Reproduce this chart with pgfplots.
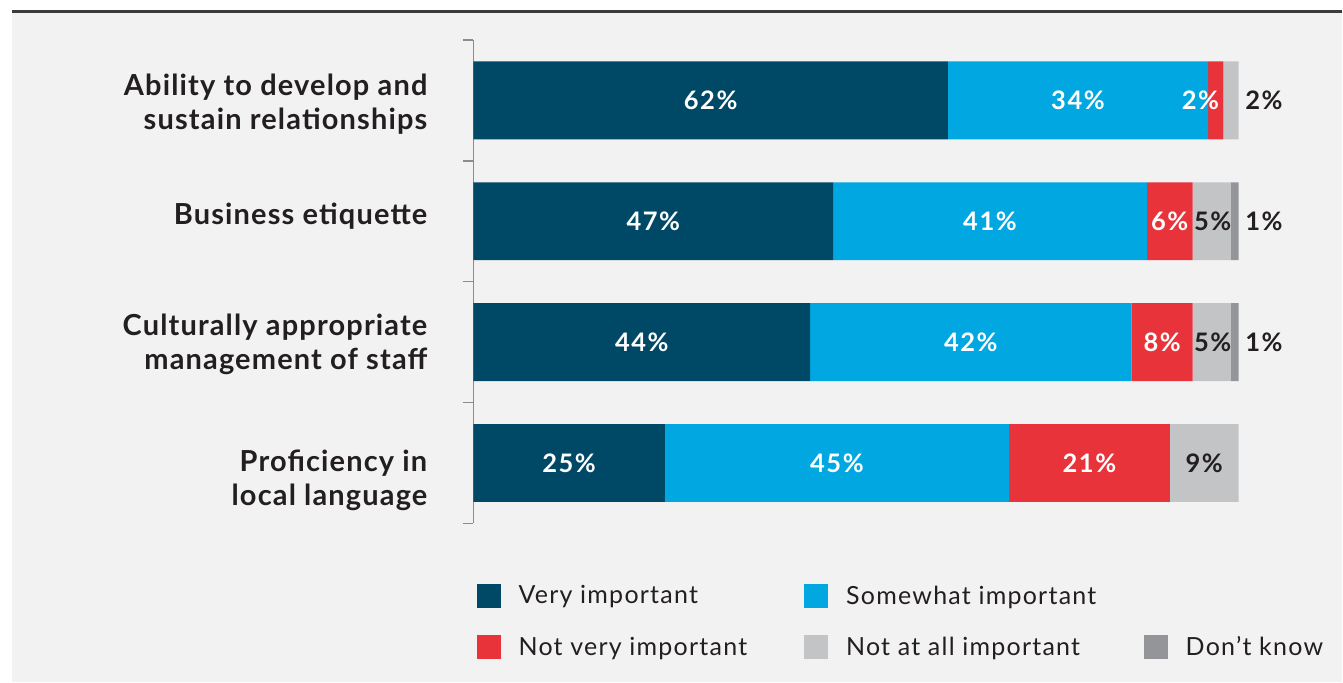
\documentclass[border=0pt]{standalone}
\usepackage{pgfplots}
\pgfplotsset{compat=1.18}
\usepackage{fontspec}
\setmainfont{Lato}
\newfontfamily\catfont[LetterSpace=4]{Lato}
\newfontfamily\valfont[LetterSpace=6]{Lato}
\newfontfamily\legfont[LetterSpace=5]{Lato}
\definecolor{cA}{HTML}{004966}
\definecolor{cB}{HTML}{00A7E1}
\definecolor{cC}{HTML}{E8333A}
\definecolor{cD}{HTML}{C3C4C6}
\definecolor{cE}{HTML}{939598}
\definecolor{bg}{HTML}{F2F2F2}
\definecolor{topline}{HTML}{3C3C3C}
\definecolor{axgray}{HTML}{8C8C8C}
\definecolor{txt}{HTML}{231F20}
\tikzset{
  wl/.style={font=\valfont\fontsize{25.5}{30}\selectfont\bfseries, inner sep=0pt, text=white},
  dl/.style={font=\valfont\fontsize{25.5}{30}\selectfont\bfseries, inner sep=0pt, text=txt},
  cl/.style={font=\catfont\fontsize{29}{34}\selectfont\bfseries, text=txt, align=right, anchor=east, inner sep=0pt, xshift=-46pt},
}
\pgfplotsset{
  sqleg/.style={legend image code/.code={\fill[##1] (0pt,-12pt) rectangle (24pt,12pt);}},
  geom/.style={at={(474pt,-524pt)}, anchor=south west,
    scale only axis, width=766pt, height=484pt,
    xmin=0, xmax=100, ymin=-0.5, ymax=3.5, y dir=reverse, clip=false},
  lab/.style={draw=none, mark=none, point meta=explicit symbolic,
    nodes near coords={\pgfplotspointmeta\%}, nodes near coords align=center,
    every node near coord/.append style={#1}},
}
\pgfplotstableread{
x y l
31 0 62
79 0 34
95 0 2
23.5 1 47
67.5 1 41
91 1 6
22 2 44
65 2 42
90 2 8
12.5 3 25
47.5 3 45
80.5 3 21
}\whitelabels
\pgfplotstableread{
x y l
103.3 0 2
96.6 1 5
103.3 1 1
96.6 2 5
103.3 2 1
95.5 3 9
}\darklabels
\begin{document}
\begin{tikzpicture}[x=1pt,y=1pt]
\fill[white] (0,0) rectangle (1343,-683);
\fill[bg] (12,-13) rectangle (1343,-683);
\draw[line width=3pt, topline] (12,-11.5) -- (1343,-11.5);
\begin{axis}[
  geom,
  xbar stacked, bar width=78pt,
  axis x line=none,
  axis y line*=left,
  y axis line style={axgray, line width=1.5pt},
  ytick={-0.5,0.5,1.5,2.5,3.5}, yticklabels={},
  tick align=outside, major tick length=10pt,
  ytick style={axgray, line width=1.5pt},
  legend columns=3,
  legend cell align=left,
  legend style={at={(0,-0.12)}, anchor=north west, draw=none, fill=none,
    font=\legfont\fontsize{25}{30}\selectfont, text=txt,
    row sep=27pt,
    /tikz/every odd column/.append style={column sep=16pt},
    /tikz/every even column/.append style={column sep=55pt}},
]
\addplot[sqleg, fill=cA, draw=none] coordinates {(62,0) (47,1) (44,2) (25,3)};
\addlegendentry{Very important}
\addplot[sqleg, fill=cB, draw=none] coordinates {(34,0) (41,1) (42,2) (45,3)};
\addlegendentry{\makebox[241pt][l]{Somewhat important}}
\addlegendimage{empty legend}
\addlegendentry{\mbox{}}
\addplot[sqleg, fill=cC, draw=none] coordinates {(2,0) (6,1) (8,2) (21,3)};
\addlegendentry{Not very important}
\addplot[sqleg, fill=cD, draw=none] coordinates {(2,0) (5,1) (5,2) (9,3)};
\addlegendentry{\makebox[241pt][l]{Not at all important}}
\addplot[sqleg, fill=cE, draw=none] coordinates {(0,0) (1,1) (1,2) (0,3)};
\addlegendentry{Don’t know}
\node[cl] at (axis cs:0,0.03) {Ability to develop and\\sustain relationships};
\node[cl] at (axis cs:0,0.96) {Business etiquette};
\node[cl] at (axis cs:0,2.02) {Culturally appropriate\\management of staff};
\node[cl] at (axis cs:0,3.14) {Proficiency in\\local language};
\end{axis}
\begin{axis}[geom, hide axis]
\addplot[lab=wl] table[x=x, y=y, meta=l] {\whitelabels};
\addplot[lab=dl] table[x=x, y=y, meta=l] {\darklabels};
\end{axis}
\end{tikzpicture}
\end{document}
